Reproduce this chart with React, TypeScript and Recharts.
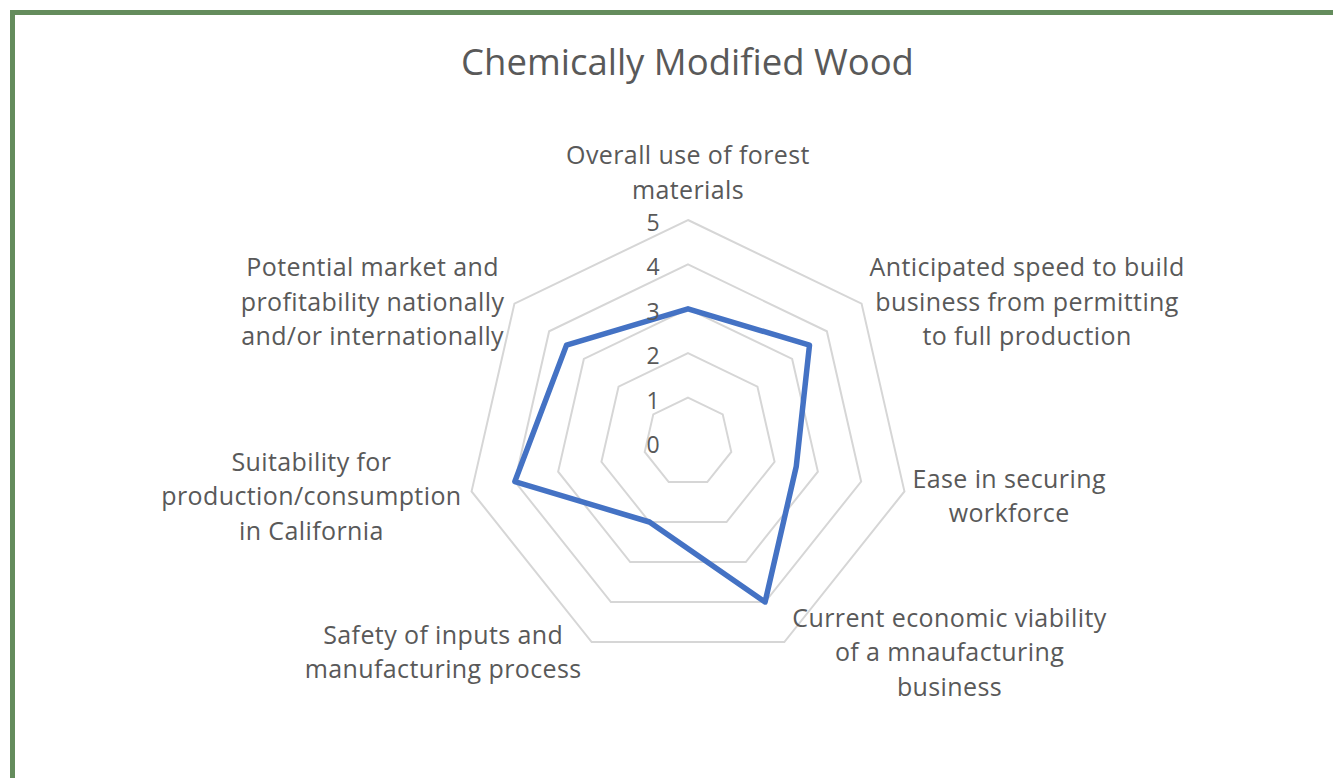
import React from "react";
import { RadarChart, Radar, PolarGrid, PolarAngleAxis, PolarRadiusAxis } from "recharts";

const categories = [
  "Overall use of forest\nmaterials",
  "Anticipated speed to build\nbusiness from permitting\nto full production",
  "Ease in securing\nworkforce",
  "Current economic viability\nof a mnaufacturing\nbusiness",
  "Safety of inputs and\nmanufacturing process",
  "Suitability for\nproduction/consumption\nin California",
  "Potential market and\nprofitability nationally\nand/or internationally",
];
const scores = [3, 3.5, 2.5, 4, 2, 4, 3.5];
const radiusTicks = [0, 1, 2, 3, 4, 5];

const data = categories.map((c, i) => ({ category: c, score: scores[i] }));

const CX = 688;
const CY = 442;
const R = 222;
const FONT = "'Open Sans', sans-serif";
const LABEL_SIZE = 25;
const SPACING = 0.4;
const LINE_H = 34.5;
const GREY = "#595959";

let ctx: CanvasRenderingContext2D | null = null;
const measure = (s: string) => {
  if (!ctx) ctx = document.createElement("canvas").getContext("2d");
  if (!ctx) return s.length * LABEL_SIZE * 0.55;
  ctx.font = `${LABEL_SIZE}px 'Open Sans'`;
  return ctx.measureText(s).width + s.length * SPACING;
};

const AngleTick = ({ payload }: any) => {
  const a = (payload.coordinate * Math.PI) / 180;
  const cos = Math.cos(a);
  const sin = Math.sin(a);
  const vx = CX + R * cos;
  const vy = CY - R * sin;
  const lines = String(payload.value).split("\n");
  const w = Math.max(...lines.map(measure));
  const h = lines.length * LINE_H;
  let cx = vx;
  let top = vy - h / 2 - 8 * sin + 2;
  if (Math.abs(cos) < 0.1) {
    top = vy - 14 - h;
  } else if (cos > 0) {
    cx = vx + 8 + w / 2;
  } else {
    cx = vx - 10 - w / 2;
  }
  return (
    <text textAnchor="middle" fill={GREY} fontSize={LABEL_SIZE} fontFamily={FONT} letterSpacing={SPACING}>
      {lines.map((l, i) => (
        <tspan key={i} x={cx} y={top + LINE_H * i + LINE_H / 2} dominantBaseline="central">
          {l}
        </tspan>
      ))}
    </text>
  );
};

const RadiusTick = ({ x, y, payload }: any) => (
  <text x={x - 35} y={y + 2} textAnchor="middle" dominantBaseline="central" fill={GREY} fontSize={23} fontFamily={FONT}>
    {payload.value}
  </text>
);

export default function App() {
  return (
    <div style={{ position: "absolute", left: 0, top: 0, width: 1333, height: 778, background: "#fff", overflow: "hidden" }}>
      <div
        style={{
          position: "absolute",
          left: 10,
          top: 10,
          width: 1400,
          height: 820,
          border: "5px solid #648c5c",
          boxSizing: "border-box",
        }}
      />
      <div
        style={{
          position: "absolute",
          left: 0,
          width: 1375,
          top: 36,
          textAlign: "center",
          fontFamily: FONT,
          fontSize: 36.5,
          color: GREY,
        }}
      >
        Chemically Modified Wood
      </div>
      <div style={{ position: "absolute", left: 0, top: 0 }}>
        <RadarChart width={1333} height={778} data={data} cx={CX} cy={CY} outerRadius={R} margin={{ top: 0, right: 0, bottom: 0, left: 0 }}>
          <PolarGrid gridType="polygon" radialLines={false} stroke="#d6d6d6" strokeWidth={2} />
          <PolarAngleAxis dataKey="category" tick={<AngleTick />} tickLine={false} axisLine={false} />
          <Radar
            dataKey="score"
            stroke="#4472c4"
            strokeWidth={5.5}
            strokeLinejoin="round"
            fill="none"
            fillOpacity={0}
            dot={false}
            isAnimationActive={false}
          />
          <PolarRadiusAxis
            angle={90}
            domain={[0, 5]}
            ticks={radiusTicks as any}
            tickCount={6}
            axisLine={false}
            tickLine={false}
            tick={<RadiusTick />}
          />
        </RadarChart>
      </div>
    </div>
  );
}
